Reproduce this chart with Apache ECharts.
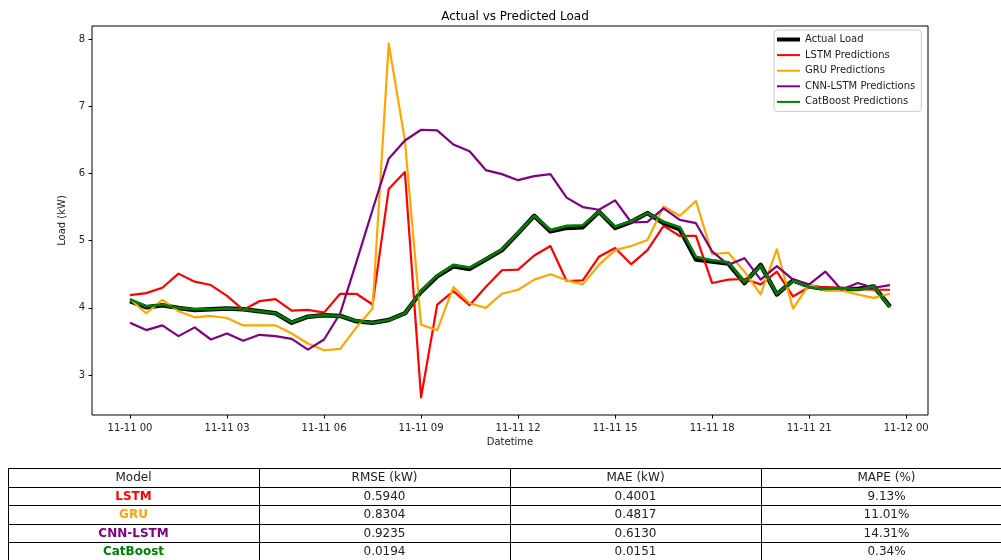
<!DOCTYPE html>
<html>
<head>
<meta charset="utf-8">
<script src="https://cdn.jsdelivr.net/npm/echarts@6/dist/echarts.min.js"></script>
<style>
  html, body { margin: 0; padding: 0; background: #fff; }
  #chart { width: 1001px; height: 560px; }
</style>
</head>
<body>
<div id="chart"></div>
<script>
// Half-hourly samples for 11 Nov, 00:00 to 23:30
const START = Date.UTC(2024, 10, 11, 0, 0);
const STEP_MIN = 30;
const N = 48;

const actualLoad = [4.10, 4.01, 4.04, 4.00, 3.97, 3.98, 3.99, 3.98, 3.95, 3.92, 3.78, 3.87,
  3.89, 3.88, 3.80, 3.78, 3.82, 3.92, 4.24, 4.47, 4.62, 4.58, 4.72, 4.86,
  5.11, 5.37, 5.14, 5.19, 5.20, 5.43, 5.19, 5.28, 5.41, 5.26, 5.17, 4.72,
  4.69, 4.66, 4.37, 4.64, 4.20, 4.41, 4.32, 4.28, 4.28, 4.28, 4.32, 4.02];

const lstmPred = [4.19, 4.22, 4.30, 4.51, 4.39, 4.34, 4.18, 3.97, 4.10, 4.13, 3.96, 3.97,
  3.93, 4.21, 4.21, 4.05, 5.77, 6.02, 2.67, 4.05, 4.25, 4.04, 4.31, 4.56,
  4.57, 4.78, 4.92, 4.40, 4.41, 4.76, 4.89, 4.65, 4.86, 5.22, 5.07, 5.07,
  4.37, 4.42, 4.43, 4.35, 4.54, 4.17, 4.31, 4.31, 4.30, 4.28, 4.27, 4.27];

const gruPred = [4.13, 3.92, 4.12, 3.95, 3.86, 3.88, 3.85, 3.74, 3.74, 3.74, 3.62, 3.47,
  3.37, 3.39, 3.71, 3.99, 7.93, 6.49, 3.75, 3.67, 4.31, 4.07, 4.00, 4.21,
  4.27, 4.42, 4.50, 4.41, 4.35, 4.64, 4.86, 4.92, 5.01, 5.51, 5.37, 5.59,
  4.80, 4.82, 4.54, 4.20, 4.87, 3.99, 4.35, 4.26, 4.26, 4.20, 4.15, 4.21];

const cnnLstmPred = [3.78, 3.67, 3.74, 3.58, 3.71, 3.53, 3.62, 3.51, 3.60, 3.58, 3.54, 3.38,
  3.53, 3.92, 4.68, 5.46, 6.22, 6.49, 6.65, 6.64, 6.43, 6.33, 6.05, 5.99,
  5.90, 5.96, 5.99, 5.64, 5.50, 5.46, 5.60, 5.27, 5.28, 5.48, 5.31, 5.26,
  4.84, 4.64, 4.74, 4.42, 4.62, 4.42, 4.35, 4.54, 4.27, 4.37, 4.30, 4.34];

const catBoostPred = [4.13, 4.02, 4.05, 4.00, 3.98, 3.98, 3.99, 3.98, 3.95, 3.92, 3.79, 3.87,
  3.89, 3.88, 3.81, 3.78, 3.82, 3.92, 4.25, 4.48, 4.64, 4.60, 4.73, 4.87,
  5.12, 5.37, 5.16, 5.22, 5.23, 5.43, 5.21, 5.29, 5.41, 5.28, 5.20, 4.76,
  4.71, 4.68, 4.38, 4.63, 4.21, 4.40, 4.31, 4.28, 4.29, 4.27, 4.32, 4.01];

// Tick positions
const xTickHours = [0, 3, 6, 9, 12, 15, 18, 21, 24];
const yTicks = [3, 4, 5, 6, 7, 8];

// Metrics table
const tableHeader = ['Model', 'RMSE (kW)', 'MAE (kW)', 'MAPE (%)'];
const models = ['LSTM', 'GRU', 'CNN-LSTM', 'CatBoost'];
const rmse = ['0.5940', '0.8304', '0.9235', '0.0194'];
const mae = ['0.4001', '0.4817', '0.6130', '0.0151'];
const mape = ['9.13%', '11.01%', '14.31%', '0.34%'];

const seriesDefs = [
  { name: 'Actual Load', data: actualLoad, color: '#000000', width: 4.5 },
  { name: 'LSTM Predictions', data: lstmPred, color: '#ff0000', width: 2.2 },
  { name: 'GRU Predictions', data: gruPred, color: '#ffa500', width: 2.2 },
  { name: 'CNN-LSTM Predictions', data: cnnLstmPred, color: '#800080', width: 2.2 },
  { name: 'CatBoost Predictions', data: catBoostPred, color: '#008000', width: 2.6 }
];
const modelColors = { 'LSTM': '#ff0000', 'GRU': '#ffa500', 'CNN-LSTM': '#800080', 'CatBoost': '#008000' };

const FONT = 'DejaVu Sans';
const HOUR = 3600 * 1000;
const times = [];
for (let i = 0; i < N; i++) times.push(START + i * STEP_MIN * 60 * 1000);

// 5% padding around the data range on both axes
const tMin = times[0], tMax = times[N - 1];
const tPad = (tMax - tMin) * 0.05;
const allVals = seriesDefs.flatMap(s => s.data);
const vMin = Math.min(...allVals), vMax = Math.max(...allVals);
const vPad = (vMax - vMin) * 0.05;

const pad2 = n => String(n).padStart(2, '0');
function fmtTime(v) {
  const d = new Date(v);
  return pad2(d.getUTCMonth() + 1) + '-' + pad2(d.getUTCDate()) + ' ' + pad2(d.getUTCHours());
}

// Table drawn beneath the plot
const T = { left: 8, top: 468, colW: 251, rowH: 18.6, right: 1012 };
const graphics = [];
const nRows = models.length + 1;
for (let r = 0; r <= nRows; r++) {
  const y = Math.round(T.top + r * T.rowH) + 0.5;
  graphics.push({ type: 'line', silent: true,
    shape: { x1: T.left, y1: y, x2: T.right, y2: y },
    style: { stroke: '#000', lineWidth: 1 } });
}
for (let c = 0; c <= tableHeader.length; c++) {
  const x = T.left + c * T.colW + 0.5;
  graphics.push({ type: 'line', silent: true,
    shape: { x1: x, y1: T.top, x2: x, y2: T.top + nRows * T.rowH + 2 },
    style: { stroke: '#000', lineWidth: 1 } });
}
function cellText(text, r, c, extra) {
  graphics.push({ type: 'text', silent: true,
    x: T.left + (c + 0.5) * T.colW,
    y: T.top + (r + 0.5) * T.rowH + 0.5,
    style: Object.assign({ text: text, fontFamily: FONT, fontSize: 12, fill: '#222',
      align: 'center', verticalAlign: 'middle' }, extra || {}) });
}
tableHeader.forEach((h, c) => cellText(h, 0, c));
models.forEach((m, i) => {
  cellText(m, i + 1, 0, { fill: modelColors[m], fontWeight: 'bold' });
  cellText(rmse[i], i + 1, 1);
  cellText(mae[i], i + 1, 2);
  cellText(mape[i], i + 1, 3);
});

const chart = echarts.init(document.getElementById('chart'), null, { renderer: 'canvas' });
chart.setOption({
  animation: false,
  backgroundColor: '#fff',
  title: {
    text: 'Actual vs Predicted Load',
    left: 510, top: 6, textAlign: 'center',
    textStyle: { fontFamily: FONT, fontSize: 12, fontWeight: 'normal', color: '#000' }
  },
  legend: {
    orient: 'vertical',
    left: 774, top: 30,
    padding: [3, 6, 3, 3],
    itemWidth: 23, itemHeight: 4, itemGap: 2.6,
    backgroundColor: 'rgba(255,255,255,0.8)',
    borderColor: '#cccccc', borderWidth: 1, borderRadius: 3,
    textStyle: { fontFamily: FONT, fontSize: 10, color: '#222', lineHeight: 13 },
    data: seriesDefs.map((s, i) => ({
      name: s.name,
      icon: i === 0 ? 'rect' : 'path://M0,0H23V2H0Z'
    }))
  },
  grid: {
    left: 92, right: 73, top: 26, bottom: 145,
    show: true, borderColor: '#000', borderWidth: 1, backgroundColor: 'transparent'
  },
  xAxis: {
    type: 'value',
    min: tMin - tPad, max: tMax + tPad,
    name: 'Datetime', nameLocation: 'middle', nameGap: 22,
    nameTextStyle: { fontFamily: FONT, fontSize: 10, color: '#222' },
    axisLine: { show: false },
    splitLine: { show: false },
    axisTick: { show: true, inside: false, length: 3.5,
      lineStyle: { color: '#000' },
      customValues: xTickHours.map(h => START + h * HOUR) },
    axisLabel: { fontFamily: FONT, fontSize: 10, color: '#222', margin: 8,
      customValues: xTickHours.map(h => START + h * HOUR),
      formatter: v => fmtTime(v), hideOverlap: false }
  },
  yAxis: {
    type: 'value',
    min: vMin - vPad, max: vMax + vPad,
    name: 'Load (kW)', nameLocation: 'middle', nameGap: 16,
    nameTextStyle: { fontFamily: FONT, fontSize: 10, color: '#222' },
    axisLine: { show: false },
    splitLine: { show: false },
    axisTick: { show: true, inside: false, length: 3.5,
      lineStyle: { color: '#000' }, customValues: yTicks },
    axisLabel: { fontFamily: FONT, fontSize: 10, color: '#222', margin: 7,
      customValues: yTicks }
  },
  series: seriesDefs.map(s => ({
    name: s.name,
    type: 'line',
    symbol: 'none',
    showSymbol: false,
    color: s.color,
    lineStyle: { color: s.color, width: s.width, join: 'round' },
    data: s.data.map((v, i) => [times[i], v])
  })),
  graphic: graphics
});
</script>
</body>
</html>
